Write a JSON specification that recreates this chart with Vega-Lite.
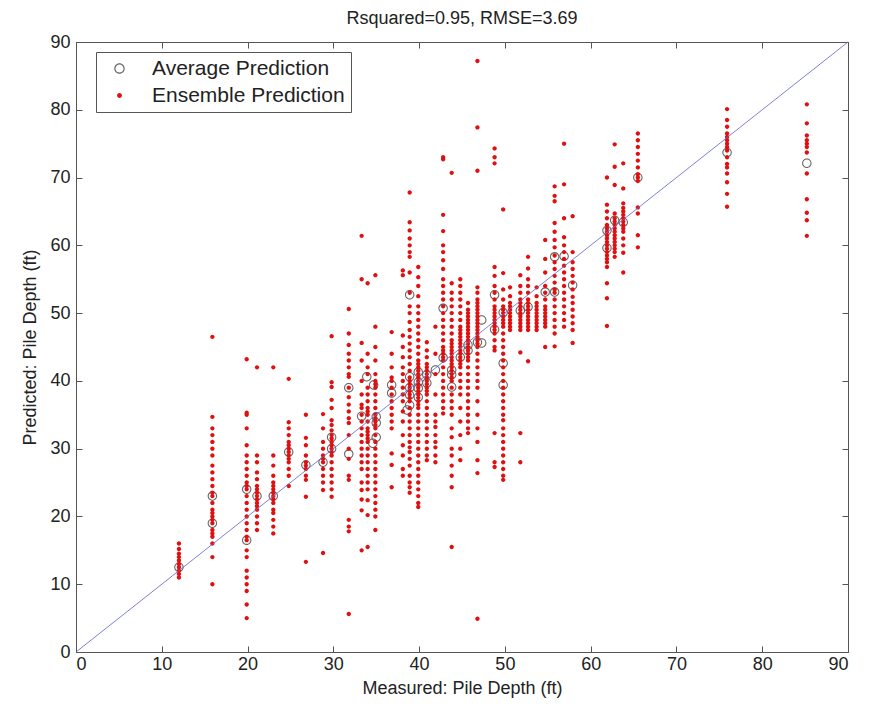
{
"$schema": "https://vega.github.io/schema/vega-lite/v6.json",
"autosize": {"type": "none"},
"width": 772, "height": 610,
"padding": {"left": 76, "top": 42, "right": 25, "bottom": 55},
"background": "white",
"title": {"text": "Rsquared=0.95, RMSE=3.69", "fontSize": 18, "font": "Liberation Sans", "fontWeight": "normal", "color": "#222", "offset": 5, "anchor": "middle"},
"config": {
 "view": {"stroke": "#555", "strokeWidth": 1},
 "axis": {"grid": false, "domainColor": "#555", "tickColor": "#555", "tickSize": -6, "labelFontSize": 18, "labelFont": "Liberation Sans", "labelColor": "#222", "titleFont": "Liberation Sans", "titleFontSize": 18, "titleFontWeight": "normal", "titleColor": "#222"},
 "legend": {"labelFont": "Liberation Sans", "labelFontSize": 21, "labelColor": "#222", "labelLimit": 400, "symbolSize": 110, "symbolStrokeWidth": 0}
},
"datasets": {
 "avg": [
{"m":12,"p":12.5},{"m":15.9,"p":23},{"m":15.9,"p":19},{"m":19.9,"p":24},{"m":19.9,"p":16.5},{"m":21.1,"p":23},{"m":23,"p":23},{"m":24.8,"p":29.5},{"m":26.8,"p":27.6},{"m":28.8,"p":28},{"m":29.8,"p":31.7},{"m":29.8,"p":30},{"m":31.8,"p":39},{"m":31.8,"p":29.2},{"m":33.3,"p":34.8},{"m":33.9,"p":40.6},{"m":34.7,"p":39.4},{"m":34.6,"p":30.8},{"m":35,"p":33.8},{"m":35,"p":31.7},{"m":35,"p":34.7},{"m":36.8,"p":39.4},{"m":36.8,"p":38.2},{"m":38.9,"p":52.7},{"m":38.9,"p":40.6},{"m":38.9,"p":39},{"m":38.9,"p":37.9},{"m":38.9,"p":36.4},{"m":38.6,"p":35.7},{"m":39.9,"p":41.3},{"m":39.9,"p":39.8},{"m":39.9,"p":38.9},{"m":39.9,"p":37.6},{"m":40.9,"p":39.7},{"m":40.9,"p":40.9},{"m":41.9,"p":41.6},{"m":42.8,"p":50.7},{"m":42.8,"p":43.4},{"m":43.8,"p":41.6},{"m":43.8,"p":40.9},{"m":43.8,"p":39.1},{"m":44.8,"p":43.5},{"m":45.7,"p":45.3},{"m":45.7,"p":44.5},{"m":46.8,"p":45.7},{"m":47.3,"p":49},{"m":47.3,"p":45.6},{"m":48.8,"p":52.7},{"m":48.8,"p":47.6},{"m":49.8,"p":42.6},{"m":49.8,"p":39.4},{"m":49.8,"p":50.1},{"m":51.8,"p":50.4},{"m":52.7,"p":50.9},{"m":54.7,"p":53.1},{"m":55.8,"p":53.1},{"m":55.8,"p":58.3},{"m":56.9,"p":58.4},{"m":57.9,"p":54.1},{"m":61.9,"p":62.2},{"m":61.9,"p":59.6},{"m":62.8,"p":63.7},{"m":63.8,"p":63.4},{"m":65.5,"p":70},{"m":75.9,"p":73.7},{"m":85.2,"p":72.1}
 ],
 "ens": [
{"m":12,"p":16},{"m":12,"p":15.2},{"m":12,"p":14.5},{"m":12,"p":14},{"m":12,"p":13.5},{"m":12,"p":13},{"m":12,"p":12.5},{"m":12,"p":12},{"m":12,"p":11.5},{"m":12,"p":11},
{"m":15.9,"p":46.5},{"m":15.9,"p":34.7},{"m":15.9,"p":33},{"m":15.9,"p":32},{"m":15.9,"p":31},{"m":15.9,"p":30},{"m":15.9,"p":29},{"m":15.9,"p":27.5},{"m":15.9,"p":26.5},{"m":15.9,"p":25.5},{"m":15.9,"p":24.5},{"m":15.9,"p":23.5},{"m":15.9,"p":23},{"m":15.9,"p":22},{"m":15.9,"p":21},{"m":15.9,"p":20.5},{"m":15.9,"p":20},{"m":15.9,"p":19.5},{"m":15.9,"p":19},{"m":15.9,"p":18},{"m":15.9,"p":17.5},{"m":15.9,"p":17},{"m":15.9,"p":16},{"m":15.9,"p":14},{"m":15.9,"p":10},
{"m":19.9,"p":43.2},{"m":19.9,"p":35.3},{"m":19.9,"p":35},{"m":19.9,"p":33},{"m":19.9,"p":30.5},{"m":19.9,"p":29},{"m":19.9,"p":28},{"m":19.9,"p":27},{"m":19.9,"p":26},{"m":19.9,"p":25},{"m":19.9,"p":24.5},{"m":19.9,"p":24},{"m":19.9,"p":23},{"m":19.9,"p":22},{"m":19.9,"p":21},{"m":19.9,"p":20},{"m":19.9,"p":19},{"m":19.9,"p":18},{"m":19.9,"p":17},{"m":19.9,"p":16.5},{"m":19.9,"p":15},{"m":19.9,"p":14},{"m":19.9,"p":12},{"m":19.9,"p":11},{"m":19.9,"p":10},{"m":19.9,"p":9},{"m":19.9,"p":7},{"m":19.9,"p":5},
{"m":21.1,"p":42},{"m":21.1,"p":29},{"m":21.1,"p":28},{"m":21.1,"p":26.5},{"m":21.1,"p":25.5},{"m":21.1,"p":24.5},{"m":21.1,"p":24},{"m":21.1,"p":23.5},{"m":21.1,"p":23},{"m":21.1,"p":22.5},{"m":21.1,"p":22},{"m":21.1,"p":21.5},{"m":21.1,"p":21},{"m":21.1,"p":20},{"m":21.1,"p":19},{"m":21.1,"p":18},
{"m":23,"p":42},{"m":23,"p":29},{"m":23,"p":27.5},{"m":23,"p":26},{"m":23,"p":25},{"m":23,"p":24.5},{"m":23,"p":24},{"m":23,"p":23.5},{"m":23,"p":23},{"m":23,"p":22.5},{"m":23,"p":22},{"m":23,"p":21},{"m":23,"p":20.5},{"m":23,"p":19.5},{"m":23,"p":18.5},{"m":23,"p":17.5},
{"m":24.8,"p":40.3},{"m":24.8,"p":33.9},{"m":24.8,"p":33},{"m":24.8,"p":32},{"m":24.8,"p":31},{"m":24.8,"p":30.5},{"m":24.8,"p":30},{"m":24.8,"p":29.5},{"m":24.8,"p":29},{"m":24.8,"p":28.5},{"m":24.8,"p":28},{"m":24.8,"p":27},{"m":24.8,"p":26},{"m":24.8,"p":24.5},
{"m":26.8,"p":35},{"m":26.8,"p":31.6},{"m":26.8,"p":30.5},{"m":26.8,"p":29},{"m":26.8,"p":28},{"m":26.8,"p":27.5},{"m":26.8,"p":27},{"m":26.8,"p":26},{"m":26.8,"p":25.4},{"m":26.8,"p":22.9},{"m":26.8,"p":13.3},
{"m":28.8,"p":35.1},{"m":28.8,"p":33},{"m":28.8,"p":31},{"m":28.8,"p":30},{"m":28.8,"p":29},{"m":28.8,"p":28.5},{"m":28.8,"p":28},{"m":28.8,"p":27},{"m":28.8,"p":26},{"m":28.8,"p":25},{"m":28.8,"p":23.9},{"m":28.8,"p":14.6},
{"m":29.8,"p":46.6},{"m":29.8,"p":39.8},{"m":29.8,"p":39.1},{"m":29.8,"p":37.2},{"m":29.8,"p":36},{"m":29.8,"p":34.2},{"m":29.8,"p":33.5},{"m":29.8,"p":32.7},{"m":29.8,"p":32},{"m":29.8,"p":31.5},{"m":29.8,"p":31},{"m":29.8,"p":30.5},{"m":29.8,"p":30},{"m":29.8,"p":29.5},{"m":29.8,"p":29},{"m":29.8,"p":28},{"m":29.8,"p":27},{"m":29.8,"p":26},{"m":29.8,"p":25},{"m":29.8,"p":24},{"m":29.8,"p":22.9},
{"m":31.8,"p":50.6},{"m":31.8,"p":47},{"m":31.8,"p":45.3},{"m":31.8,"p":44},{"m":31.8,"p":43},{"m":31.8,"p":42},{"m":31.8,"p":41},{"m":31.8,"p":40.6},{"m":31.8,"p":39},{"m":31.8,"p":37.6},{"m":31.8,"p":36.5},{"m":31.8,"p":35.5},{"m":31.8,"p":34.5},{"m":31.8,"p":33.8},{"m":31.8,"p":32},{"m":31.8,"p":30},{"m":31.8,"p":28.5},{"m":31.8,"p":26},{"m":31.8,"p":25.4},{"m":31.8,"p":19.5},{"m":31.8,"p":18.5},{"m":31.8,"p":17.8},{"m":31.8,"p":5.6},
{"m":33.3,"p":61.4},{"m":33.3,"p":55},{"m":33.3,"p":45.6},{"m":33.3,"p":43},{"m":33.3,"p":40},{"m":33.3,"p":38},{"m":33.3,"p":36.5},{"m":33.3,"p":36},{"m":33.3,"p":35},{"m":33.3,"p":34},{"m":33.3,"p":33},{"m":33.3,"p":32},{"m":33.3,"p":31},{"m":33.3,"p":30},{"m":33.3,"p":29},{"m":33.3,"p":28},{"m":33.3,"p":27},{"m":33.3,"p":25},{"m":33.3,"p":23.9},{"m":33.3,"p":22.5},{"m":33.3,"p":20.9},{"m":33.3,"p":15},
{"m":34,"p":54.4},{"m":34,"p":44},{"m":34,"p":42},{"m":34,"p":41},{"m":34,"p":39},{"m":34,"p":38},{"m":34,"p":37},{"m":34,"p":36},{"m":34,"p":35.5},{"m":34,"p":35},{"m":34,"p":34},{"m":34,"p":33},{"m":34,"p":32.5},{"m":34,"p":32},{"m":34,"p":31.5},{"m":34,"p":31},{"m":34,"p":30},{"m":34,"p":29},{"m":34,"p":28},{"m":34,"p":27},{"m":34,"p":26},{"m":34,"p":25},{"m":34,"p":24},{"m":34,"p":22.4},{"m":34,"p":20.2},{"m":34,"p":15.5},
{"m":34.9,"p":55.6},{"m":34.9,"p":48},{"m":34.9,"p":45},{"m":34.9,"p":43},{"m":34.9,"p":41},{"m":34.9,"p":40},{"m":34.9,"p":39.5},{"m":34.9,"p":39},{"m":34.9,"p":38},{"m":34.9,"p":37},{"m":34.9,"p":36},{"m":34.9,"p":35},{"m":34.9,"p":34.5},{"m":34.9,"p":34},{"m":34.9,"p":33.5},{"m":34.9,"p":33},{"m":34.9,"p":32},{"m":34.9,"p":31},{"m":34.9,"p":30},{"m":34.9,"p":29},{"m":34.9,"p":28},{"m":34.9,"p":27},{"m":34.9,"p":26},{"m":34.9,"p":25},{"m":34.9,"p":24},{"m":34.9,"p":23},{"m":34.9,"p":22},{"m":34.9,"p":21},{"m":34.9,"p":20},{"m":34.9,"p":18},
{"m":36.8,"p":47.2},{"m":36.8,"p":44},{"m":36.8,"p":42},{"m":36.8,"p":40.5},{"m":36.8,"p":40},{"m":36.8,"p":39},{"m":36.8,"p":38},{"m":36.8,"p":37},{"m":36.8,"p":36},{"m":36.8,"p":35},{"m":36.8,"p":34},{"m":36.8,"p":33},{"m":36.8,"p":29.3},{"m":36.8,"p":27.6},{"m":36.8,"p":24.3},
{"m":38.1,"p":56.3},{"m":38.1,"p":55.6},{"m":38.1,"p":46.7},{"m":38.1,"p":45},{"m":38.1,"p":43.5},{"m":38.1,"p":42},{"m":38.1,"p":41},{"m":38.1,"p":40},{"m":38.1,"p":39},{"m":38.1,"p":38},{"m":38.1,"p":37},{"m":38.1,"p":35.5},{"m":38.1,"p":34},{"m":38.1,"p":32},{"m":38.1,"p":30.5},{"m":38.1,"p":29},{"m":38.1,"p":27},{"m":38.1,"p":26},
{"m":38.9,"p":67.8},{"m":38.9,"p":63.4},{"m":38.9,"p":62.2},{"m":38.9,"p":61},{"m":38.9,"p":60},{"m":38.9,"p":59},{"m":38.9,"p":58.3},{"m":38.9,"p":56},{"m":38.9,"p":53},{"m":38.9,"p":51},{"m":38.9,"p":50},{"m":38.9,"p":48.7},{"m":38.9,"p":47.5},{"m":38.9,"p":46.5},{"m":38.9,"p":45.5},{"m":38.9,"p":44.5},{"m":38.9,"p":43.5},{"m":38.9,"p":42.5},{"m":38.9,"p":41.5},{"m":38.9,"p":40.5},{"m":38.9,"p":40},{"m":38.9,"p":39.5},{"m":38.9,"p":39},{"m":38.9,"p":38.5},{"m":38.9,"p":38},{"m":38.9,"p":37.5},{"m":38.9,"p":37},{"m":38.9,"p":36},{"m":38.9,"p":35},{"m":38.9,"p":34},{"m":38.9,"p":33},{"m":38.9,"p":32},{"m":38.9,"p":31},{"m":38.9,"p":30.2},{"m":38.9,"p":29.5},{"m":38.9,"p":28.5},{"m":38.9,"p":27.5},{"m":38.9,"p":26},{"m":38.9,"p":25},{"m":38.9,"p":24.3},{"m":38.9,"p":23.5},
{"m":39.9,"p":56.8},{"m":39.9,"p":55.3},{"m":39.9,"p":54},{"m":39.9,"p":52.5},{"m":39.9,"p":51},{"m":39.9,"p":50},{"m":39.9,"p":49},{"m":39.9,"p":48},{"m":39.9,"p":47},{"m":39.9,"p":46},{"m":39.9,"p":45},{"m":39.9,"p":44},{"m":39.9,"p":43},{"m":39.9,"p":42.5},{"m":39.9,"p":42},{"m":39.9,"p":41.5},{"m":39.9,"p":41},{"m":39.9,"p":40.5},{"m":39.9,"p":40},{"m":39.9,"p":39.5},{"m":39.9,"p":39},{"m":39.9,"p":38.5},{"m":39.9,"p":38},{"m":39.9,"p":37.5},{"m":39.9,"p":37},{"m":39.9,"p":36.5},{"m":39.9,"p":36},{"m":39.9,"p":35},{"m":39.9,"p":34},{"m":39.9,"p":33},{"m":39.9,"p":32},{"m":39.9,"p":31},{"m":39.9,"p":30},{"m":39.9,"p":29},{"m":39.9,"p":28},{"m":39.9,"p":27},{"m":39.9,"p":26},{"m":39.9,"p":25},{"m":39.9,"p":24},{"m":39.9,"p":23},{"m":39.9,"p":22},{"m":39.9,"p":21.4},
{"m":40.9,"p":45.7},{"m":40.9,"p":44.5},{"m":40.9,"p":43.5},{"m":40.9,"p":42.5},{"m":40.9,"p":42},{"m":40.9,"p":41.5},{"m":40.9,"p":41},{"m":40.9,"p":40.5},{"m":40.9,"p":40},{"m":40.9,"p":39.5},{"m":40.9,"p":39},{"m":40.9,"p":38.5},{"m":40.9,"p":38},{"m":40.9,"p":37},{"m":40.9,"p":36},{"m":40.9,"p":35},{"m":40.9,"p":34},{"m":40.9,"p":33},{"m":40.9,"p":32},{"m":40.9,"p":31},{"m":40.9,"p":30},{"m":40.9,"p":29},{"m":40.9,"p":28.3},
{"m":41.9,"p":48},{"m":41.9,"p":44},{"m":41.9,"p":41},{"m":41.9,"p":38},{"m":41.9,"p":35},{"m":41.9,"p":34},{"m":41.9,"p":33.2},{"m":41.9,"p":32},{"m":41.9,"p":31},{"m":41.9,"p":30.2},{"m":41.9,"p":29},{"m":41.9,"p":28},
{"m":42.8,"p":73},{"m":42.8,"p":72.7},{"m":42.8,"p":64.5},{"m":42.8,"p":62.1},{"m":42.8,"p":60},{"m":42.8,"p":59},{"m":42.8,"p":57.8},{"m":42.8,"p":56.5},{"m":42.8,"p":55},{"m":42.8,"p":54},{"m":42.8,"p":53},{"m":42.8,"p":52},{"m":42.8,"p":51},{"m":42.8,"p":50},{"m":42.8,"p":49},{"m":42.8,"p":48},{"m":42.8,"p":47},{"m":42.8,"p":46},{"m":42.8,"p":45},{"m":42.8,"p":44.5},{"m":42.8,"p":44},{"m":42.8,"p":43.5},{"m":42.8,"p":43},{"m":42.8,"p":42},{"m":42.8,"p":41},{"m":42.8,"p":40},{"m":42.8,"p":39},{"m":42.8,"p":38},{"m":42.8,"p":37},{"m":42.8,"p":36},{"m":42.8,"p":35.2},
{"m":43.8,"p":70.7},{"m":43.8,"p":54.4},{"m":43.8,"p":53},{"m":43.8,"p":52},{"m":43.8,"p":51},{"m":43.8,"p":50},{"m":43.8,"p":49},{"m":43.8,"p":48},{"m":43.8,"p":47},{"m":43.8,"p":46},{"m":43.8,"p":45.5},{"m":43.8,"p":45},{"m":43.8,"p":44.5},{"m":43.8,"p":44},{"m":43.8,"p":43.5},{"m":43.8,"p":43},{"m":43.8,"p":42.5},{"m":43.8,"p":42},{"m":43.8,"p":41.5},{"m":43.8,"p":41},{"m":43.8,"p":40.5},{"m":43.8,"p":40},{"m":43.8,"p":39},{"m":43.8,"p":38},{"m":43.8,"p":37},{"m":43.8,"p":36},{"m":43.8,"p":35},{"m":43.8,"p":33},{"m":43.8,"p":31.7},{"m":43.8,"p":30},{"m":43.8,"p":29},{"m":43.8,"p":27.5},{"m":43.8,"p":26},{"m":43.8,"p":24.3},{"m":43.8,"p":15.5},
{"m":44.8,"p":55},{"m":44.8,"p":54},{"m":44.8,"p":53},{"m":44.8,"p":52},{"m":44.8,"p":51},{"m":44.8,"p":50},{"m":44.8,"p":49},{"m":44.8,"p":48},{"m":44.8,"p":47.5},{"m":44.8,"p":47},{"m":44.8,"p":46.5},{"m":44.8,"p":46},{"m":44.8,"p":45.5},{"m":44.8,"p":45},{"m":44.8,"p":44.5},{"m":44.8,"p":44},{"m":44.8,"p":43.5},{"m":44.8,"p":43},{"m":44.8,"p":42.5},{"m":44.8,"p":42},{"m":44.8,"p":41},{"m":44.8,"p":40},{"m":44.8,"p":39},{"m":44.8,"p":38},{"m":44.8,"p":36},{"m":44.8,"p":34},{"m":44.8,"p":32},{"m":44.8,"p":30},{"m":44.8,"p":28.3},
{"m":45.7,"p":51.5},{"m":45.7,"p":50.5},{"m":45.7,"p":50},{"m":45.7,"p":49.5},{"m":45.7,"p":49},{"m":45.7,"p":48.5},{"m":45.7,"p":48},{"m":45.7,"p":47.5},{"m":45.7,"p":47},{"m":45.7,"p":46.5},{"m":45.7,"p":46},{"m":45.7,"p":45.5},{"m":45.7,"p":45},{"m":45.7,"p":44.5},{"m":45.7,"p":44},{"m":45.7,"p":43.5},{"m":45.7,"p":43},{"m":45.7,"p":42},{"m":45.7,"p":41},{"m":45.7,"p":40},{"m":45.7,"p":39},{"m":45.7,"p":38},{"m":45.7,"p":37},{"m":45.7,"p":36},{"m":45.7,"p":35},{"m":45.7,"p":34},{"m":45.7,"p":33},{"m":45.7,"p":32.3},
{"m":46.8,"p":87.2},{"m":46.8,"p":77.4},{"m":46.8,"p":71},{"m":46.8,"p":53.8},{"m":46.8,"p":53},{"m":46.8,"p":52},{"m":46.8,"p":51.5},{"m":46.8,"p":51},{"m":46.8,"p":50.5},{"m":46.8,"p":50},{"m":46.8,"p":49.5},{"m":46.8,"p":49},{"m":46.8,"p":48.5},{"m":46.8,"p":48},{"m":46.8,"p":47.5},{"m":46.8,"p":47},{"m":46.8,"p":46.5},{"m":46.8,"p":46},{"m":46.8,"p":45.5},{"m":46.8,"p":45},{"m":46.8,"p":44},{"m":46.8,"p":43},{"m":46.8,"p":42},{"m":46.8,"p":41},{"m":46.8,"p":40},{"m":46.8,"p":39},{"m":46.8,"p":37},{"m":46.8,"p":35},{"m":46.8,"p":33},{"m":46.8,"p":31},{"m":46.8,"p":28.3},{"m":46.8,"p":26.4},{"m":46.8,"p":4.9},
{"m":48.8,"p":74.3},{"m":48.8,"p":73},{"m":48.8,"p":72.1},{"m":48.8,"p":56.8},{"m":48.8,"p":55.5},{"m":48.8,"p":54},{"m":48.8,"p":53},{"m":48.8,"p":52},{"m":48.8,"p":51},{"m":48.8,"p":50.5},{"m":48.8,"p":50},{"m":48.8,"p":49.5},{"m":48.8,"p":49},{"m":48.8,"p":48.5},{"m":48.8,"p":48},{"m":48.8,"p":47.5},{"m":48.8,"p":47},{"m":48.8,"p":46},{"m":48.8,"p":45},{"m":48.8,"p":44.5},{"m":48.8,"p":32.3},{"m":48.8,"p":28},{"m":48.8,"p":27.3},
{"m":49.8,"p":65.3},{"m":49.8,"p":55.9},{"m":49.8,"p":53.5},{"m":49.8,"p":52},{"m":49.8,"p":51},{"m":49.8,"p":50.5},{"m":49.8,"p":50},{"m":49.8,"p":49.5},{"m":49.8,"p":49},{"m":49.8,"p":48.5},{"m":49.8,"p":48},{"m":49.8,"p":47},{"m":49.8,"p":46},{"m":49.8,"p":45},{"m":49.8,"p":44},{"m":49.8,"p":43},{"m":49.8,"p":42},{"m":49.8,"p":41},{"m":49.8,"p":40},{"m":49.8,"p":39},{"m":49.8,"p":38},{"m":49.8,"p":37},{"m":49.8,"p":36},{"m":49.8,"p":35},{"m":49.8,"p":34.2},{"m":49.8,"p":33},{"m":49.8,"p":32},{"m":49.8,"p":31},{"m":49.8,"p":30},{"m":49.8,"p":29},{"m":49.8,"p":28},{"m":49.8,"p":27},{"m":49.8,"p":26},{"m":49.8,"p":25.4},
{"m":50.6,"p":53.8},{"m":50.6,"p":52.5},{"m":50.6,"p":51.5},{"m":50.6,"p":51},{"m":50.6,"p":50.5},{"m":50.6,"p":50},{"m":50.6,"p":49.5},{"m":50.6,"p":49},{"m":50.6,"p":48.5},{"m":50.6,"p":48},{"m":50.6,"p":47.5},
{"m":51.8,"p":55.6},{"m":51.8,"p":54},{"m":51.8,"p":53},{"m":51.8,"p":52},{"m":51.8,"p":51.5},{"m":51.8,"p":51},{"m":51.8,"p":50.5},{"m":51.8,"p":50},{"m":51.8,"p":49.5},{"m":51.8,"p":49},{"m":51.8,"p":48.5},{"m":51.8,"p":48},{"m":51.8,"p":47.5},{"m":51.8,"p":44.2},{"m":51.8,"p":32.3},{"m":51.8,"p":28},
{"m":52.7,"p":58.3},{"m":52.7,"p":56.6},{"m":52.7,"p":55},{"m":52.7,"p":54},{"m":52.7,"p":53},{"m":52.7,"p":52},{"m":52.7,"p":51.5},{"m":52.7,"p":51},{"m":52.7,"p":50.5},{"m":52.7,"p":50},{"m":52.7,"p":49.5},{"m":52.7,"p":49},{"m":52.7,"p":48.5},{"m":52.7,"p":48},{"m":52.7,"p":47.5},{"m":52.7,"p":42.9},
{"m":53.7,"p":53.8},{"m":53.7,"p":52.5},{"m":53.7,"p":51.5},{"m":53.7,"p":51},{"m":53.7,"p":50.5},{"m":53.7,"p":50},{"m":53.7,"p":49.5},{"m":53.7,"p":49},{"m":53.7,"p":48.5},{"m":53.7,"p":48},{"m":53.7,"p":47.5},
{"m":54.7,"p":60.8},{"m":54.7,"p":58},{"m":54.7,"p":56},{"m":54.7,"p":54},{"m":54.7,"p":53},{"m":54.7,"p":52},{"m":54.7,"p":51},{"m":54.7,"p":50.5},{"m":54.7,"p":50},{"m":54.7,"p":49.5},{"m":54.7,"p":49},{"m":54.7,"p":48.5},{"m":54.7,"p":48},{"m":54.7,"p":45},
{"m":55.8,"p":68.7},{"m":55.8,"p":67.3},{"m":55.8,"p":66.5},{"m":55.8,"p":63.3},{"m":55.8,"p":62},{"m":55.8,"p":60.8},{"m":55.8,"p":59.7},{"m":55.8,"p":58.5},{"m":55.8,"p":57.5},{"m":55.8,"p":56.5},{"m":55.8,"p":55.5},{"m":55.8,"p":54.5},{"m":55.8,"p":53.5},{"m":55.8,"p":53},{"m":55.8,"p":52},{"m":55.8,"p":51},{"m":55.8,"p":50},{"m":55.8,"p":49},{"m":55.8,"p":48},{"m":55.8,"p":47},{"m":55.8,"p":45.1},
{"m":56.9,"p":75},{"m":56.9,"p":69},{"m":56.9,"p":64},{"m":56.9,"p":61.2},{"m":56.9,"p":60},{"m":56.9,"p":59},{"m":56.9,"p":58},{"m":56.9,"p":57},{"m":56.9,"p":56},{"m":56.9,"p":55},{"m":56.9,"p":54},{"m":56.9,"p":53},{"m":56.9,"p":52},{"m":56.9,"p":51},{"m":56.9,"p":50},{"m":56.9,"p":49},{"m":56.9,"p":48},
{"m":57.9,"p":64.3},{"m":57.9,"p":59},{"m":57.9,"p":57.5},{"m":57.9,"p":56.5},{"m":57.9,"p":55.5},{"m":57.9,"p":54.5},{"m":57.9,"p":53.5},{"m":57.9,"p":52.4},{"m":57.9,"p":51.5},{"m":57.9,"p":50.5},{"m":57.9,"p":49.5},{"m":57.9,"p":48.5},{"m":57.9,"p":47.5},{"m":57.9,"p":45.6},
{"m":61.9,"p":70},{"m":61.9,"p":66},{"m":61.9,"p":65},{"m":61.9,"p":64},{"m":61.9,"p":63},{"m":61.9,"p":62.5},{"m":61.9,"p":62},{"m":61.9,"p":61.5},{"m":61.9,"p":61},{"m":61.9,"p":60.5},{"m":61.9,"p":60},{"m":61.9,"p":59.5},{"m":61.9,"p":59},{"m":61.9,"p":58.5},{"m":61.9,"p":58},{"m":61.9,"p":57.5},{"m":61.9,"p":56.8},{"m":61.9,"p":54.4},{"m":61.9,"p":52.2},{"m":61.9,"p":48.1},
{"m":62.8,"p":74.9},{"m":62.8,"p":71.6},{"m":62.8,"p":68.9},{"m":62.8,"p":64.7},{"m":62.8,"p":64},{"m":62.8,"p":63.5},{"m":62.8,"p":63},{"m":62.8,"p":62.5},{"m":62.8,"p":62},{"m":62.8,"p":61.5},{"m":62.8,"p":61},{"m":62.8,"p":60.5},{"m":62.8,"p":60},{"m":62.8,"p":59.5},{"m":62.8,"p":59},{"m":62.8,"p":58.3},
{"m":63.8,"p":72.1},{"m":63.8,"p":68.4},{"m":63.8,"p":66.2},{"m":63.8,"p":65.5},{"m":63.8,"p":65},{"m":63.8,"p":64.5},{"m":63.8,"p":64},{"m":63.8,"p":63.5},{"m":63.8,"p":63},{"m":63.8,"p":62.5},{"m":63.8,"p":62},{"m":63.8,"p":61},{"m":63.8,"p":60},{"m":63.8,"p":58.9},{"m":63.8,"p":56},
{"m":65.5,"p":76.5},{"m":65.5,"p":75.5},{"m":65.5,"p":74.5},{"m":65.5,"p":73.5},{"m":65.5,"p":72.5},{"m":65.5,"p":71.5},{"m":65.5,"p":70.5},{"m":65.5,"p":70},{"m":65.5,"p":69.5},{"m":65.5,"p":65.6},{"m":65.5,"p":64.7},{"m":65.5,"p":61.5},{"m":65.5,"p":59.7},
{"m":75.9,"p":80.1},{"m":75.9,"p":78.5},{"m":75.9,"p":77.5},{"m":75.9,"p":76.5},{"m":75.9,"p":76},{"m":75.9,"p":75.5},{"m":75.9,"p":75},{"m":75.9,"p":74.5},{"m":75.9,"p":74},{"m":75.9,"p":73},{"m":75.9,"p":72},{"m":75.9,"p":71.5},{"m":75.9,"p":70.6},{"m":75.9,"p":69.3},{"m":75.9,"p":67.6},{"m":75.9,"p":65.7},
{"m":85.2,"p":80.8},{"m":85.2,"p":78},{"m":85.2,"p":76.2},{"m":85.2,"p":75.5},{"m":85.2,"p":75},{"m":85.2,"p":74.5},{"m":85.2,"p":73.7},{"m":85.2,"p":70.6},{"m":85.2,"p":66.8},{"m":85.2,"p":64.8},{"m":85.2,"p":63.7},{"m":85.2,"p":61.4}
 ],
 "diag": [{"m":0,"p":0},{"m":90,"p":90}]
},
"layer": [
 {
  "data": {"name": "avg"},
  "mark": {"type": "point", "filled": true, "size": 90, "strokeWidth": 0, "opacity": 1},
  "encoding": {
   "x": {"field": "m", "type": "quantitative", "scale": {"domain": [0, 90], "nice": false, "zero": false},
         "axis": {"orient": "bottom", "values": [0,10,20,30,40,50,60,70,80,90], "title": "Measured: Pile Depth (ft)", "labelPadding": 9, "titlePadding": 6}},
   "y": {"field": "p", "type": "quantitative", "scale": {"domain": [0, 90], "nice": false, "zero": false},
         "axis": {"orient": "left", "values": [0,10,20,30,40,50,60,70,80,90], "title": "Predicted: Pile Depth (ft)", "labelPadding": 12, "titlePadding": 10}},
   "color": {"datum": "Average Prediction", "type": "nominal",
     "scale": {"domain": ["Average Prediction", "Ensemble Prediction"], "range": ["#666666", "#e01010"]},
     "legend": {"title": null, "orient": "none", "legendX": 20, "legendY": 10, "strokeColor": "#555", "fillColor": "white", "padding": 6, "symbolOffset": 7, "labelOffset": 22, "rowPadding": 5, "labelLimit": 400}},
   "shape": {"datum": "Average Prediction", "type": "nominal",
     "scale": {"domain": ["Average Prediction", "Ensemble Prediction"], "range": ["M0,-1A1,1,0,1,1,0,1A1,1,0,1,1,0,-1ZM0,-0.78A0.78,0.78,0,1,0,0,0.78A0.78,0.78,0,1,0,0,-0.78Z", "M0,-0.46A0.46,0.46,0,1,1,0,0.46A0.46,0.46,0,1,1,0,-0.46Z"]},
     "legend": {"title": null, "orient": "none", "legendX": 20, "legendY": 10, "strokeColor": "#555", "fillColor": "white", "padding": 6, "symbolOffset": 7, "labelOffset": 22, "rowPadding": 5, "labelLimit": 400}}
  }
 },
 {
  "data": {"name": "ens"},
  "mark": {"type": "point", "filled": true, "size": 90, "strokeWidth": 0, "opacity": 1},
  "encoding": {
   "x": {"field": "m", "type": "quantitative", "axis": null},
   "y": {"field": "p", "type": "quantitative", "axis": null},
   "color": {"datum": "Ensemble Prediction", "type": "nominal"},
   "shape": {"datum": "Ensemble Prediction", "type": "nominal"}
  }
 },
 {
  "data": {"name": "diag"},
  "mark": {"type": "line", "color": "#6a6ad0", "strokeWidth": 1, "opacity": 0.85},
  "encoding": {
   "x": {"field": "m", "type": "quantitative", "axis": {"orient": "top", "values": [0,10,20,30,40,50,60,70,80,90], "labels": false, "title": null}},
   "y": {"field": "p", "type": "quantitative", "axis": {"orient": "right", "values": [0,10,20,30,40,50,60,70,80,90], "labels": false, "title": null}}
  }
 }
],
"resolve": {"axis": {"x": "independent", "y": "independent"}}
}
